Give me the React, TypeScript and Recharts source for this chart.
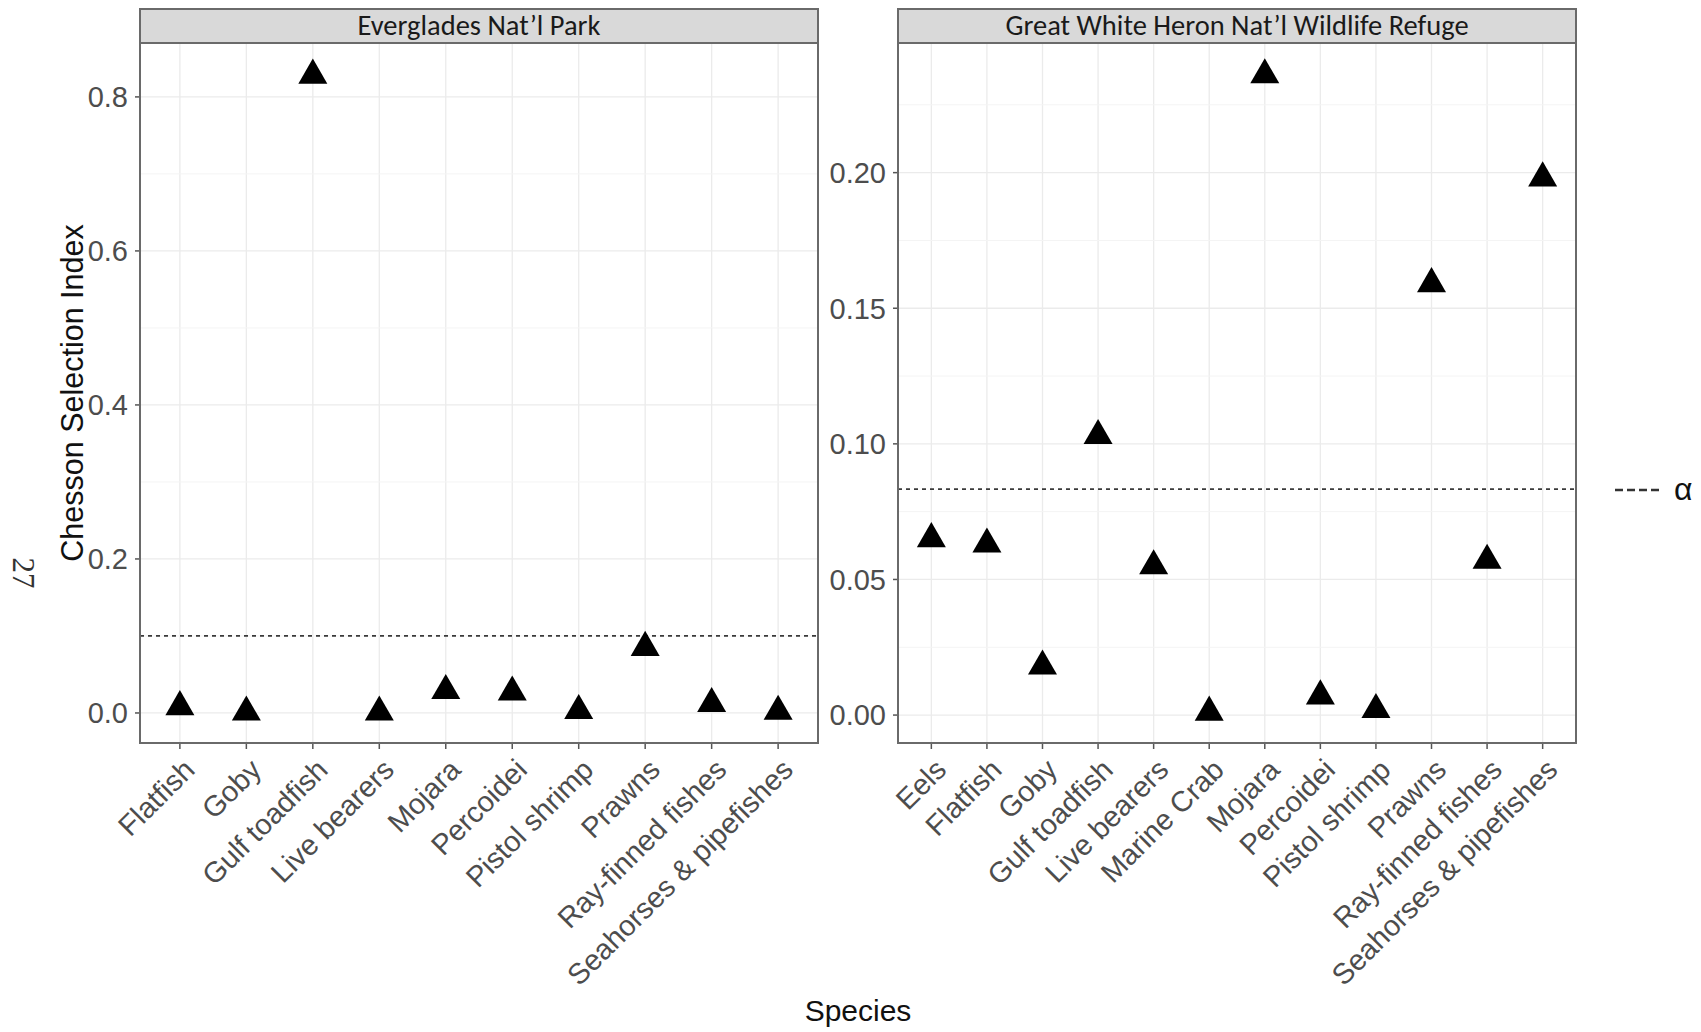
import React from 'react'
import { ScatterChart, Scatter, XAxis, YAxis, CartesianGrid, ReferenceLine } from 'recharts'

// Everglades Nat'l Park
const evergladesSpecies = [
  'Flatfish', 'Goby', 'Gulf toadfish', 'Live bearers', 'Mojara', 'Percoidei',
  'Pistol shrimp', 'Prawns', 'Ray-finned fishes', 'Seahorses & pipefishes',
]
const evergladesIndex = [0.008, 0.001, 0.828, 0.001, 0.029, 0.027, 0.003, 0.085, 0.012, 0.002]
const evergladesTicks = [0, 0.2, 0.4, 0.6, 0.8]
const evergladesMinor = [0.1, 0.3, 0.5, 0.7]
const evergladesAlpha = 0.1

// Great White Heron Nat'l Wildlife Refuge
const heronSpecies = [
  'Eels', 'Flatfish', 'Goby', 'Gulf toadfish', 'Live bearers', 'Marine Crab', 'Mojara',
  'Percoidei', 'Pistol shrimp', 'Prawns', 'Ray-finned fishes', 'Seahorses & pipefishes',
]
const heronIndex = [0.065, 0.063, 0.018, 0.103, 0.055, 0.001, 0.236, 0.007, 0.002, 0.159, 0.057, 0.198]
const heronTicks = [0, 0.05, 0.1, 0.15, 0.2]
const heronMinor = [0.025, 0.075, 0.125, 0.175, 0.225]
const heronAlpha = 1 / 12

const SANS = '"Liberation Sans", Arial, sans-serif'
const PLOT_TOP = 43
const PLOT_BOTTOM = 743
const PLOT_W = 678
const Y_AXIS_W = 140
const X_AXIS_H = 250
const CHART_H = 1032
const BORDER = '#6a6a6a'
const TICK_FONT = 29

function Triangle(props: any) {
  const { cx, cy } = props
  if (cx == null || cy == null) return null
  const s = 29
  const h = (s * Math.sqrt(3)) / 2
  return (
    <polygon
      points={`${cx},${cy - (2 * h) / 3} ${cx - s / 2},${cy + h / 3} ${cx + s / 2},${cy + h / 3}`}
      fill="#000"
    />
  )
}

function SpeciesTick(props: any) {
  const { x, y, payload, names } = props
  const label = names[Math.round(payload.value) - 1]
  return (
    <text
      x={0}
      y={0}
      transform={`translate(${x + 2},${y}) rotate(-45)`}
      textAnchor="end"
      dy="0.71em"
      fontSize={TICK_FONT}
      fontFamily={SANS}
      fill="#4d4d4d"
    >
      {label}
    </text>
  )
}

function Panel({
  plotLeft, title, species, values, ticks, minor, alpha, domain, digits,
}: {
  plotLeft: number
  title: string
  species: string[]
  values: number[]
  ticks: number[]
  minor: number[]
  alpha: number
  domain: [number, number]
  digits: number
}) {
  const data = species.map((name, i) => ({ pos: i + 1, value: values[i], name }))
  const positions = species.map((_, i) => i + 1)
  const chartW = Y_AXIS_W + PLOT_W + 20

  return (
    <>
      <div style={{ position: 'absolute', left: plotLeft - Y_AXIS_W, top: 0 }}>
        <ScatterChart
          width={chartW}
          height={CHART_H}
          margin={{ top: PLOT_TOP, right: 20, left: 0, bottom: CHART_H - PLOT_BOTTOM - X_AXIS_H }}
        >
          <CartesianGrid stroke="#EBEBEB" strokeWidth={1.3} />
          {minor.map((m) => (
            <ReferenceLine key={m} y={m} stroke="#F4F4F4" strokeWidth={1} />
          ))}
          <XAxis
            type="number"
            dataKey="pos"
            domain={[0.4, species.length + 0.6]}
            ticks={positions}
            interval={0}
            height={X_AXIS_H}
            axisLine={false}
            tickSize={6}
            tickMargin={8}
            tickLine={{ stroke: '#555', strokeWidth: 1.5 }}
            tick={(p: any) => <SpeciesTick {...p} names={species} />}
            allowDataOverflow
          />
          <YAxis
            type="number"
            dataKey="value"
            domain={domain}
            ticks={ticks}
            interval={0}
            width={Y_AXIS_W}
            axisLine={false}
            tickSize={5}
            tickMargin={7}
            tickLine={{ stroke: '#555', strokeWidth: 1.5 }}
            tick={{ fontSize: TICK_FONT, fill: '#4d4d4d', fontFamily: SANS }}
            tickFormatter={(v: number) => v.toFixed(digits)}
            allowDataOverflow
          />
          <ReferenceLine y={alpha} stroke="#3a3a3a" strokeDasharray="4 4" strokeWidth={1.8} />
          <Scatter data={data} shape={Triangle} isAnimationActive={false} />
        </ScatterChart>
      </div>
      <div
        style={{
          position: 'absolute', left: plotLeft - 1, top: PLOT_TOP - 1,
          width: PLOT_W + 2, height: PLOT_BOTTOM - PLOT_TOP + 2,
          border: `2px solid ${BORDER}`, boxSizing: 'border-box', pointerEvents: 'none',
        }}
      />
      <div
        style={{
          position: 'absolute', left: plotLeft - 1, top: 8, width: PLOT_W + 2, height: PLOT_TOP - 7,
          border: `2px solid ${BORDER}`, boxSizing: 'border-box', background: '#D9D9D9',
          display: 'flex', alignItems: 'center', justifyContent: 'center',
          fontFamily: 'Carlito, Lato, sans-serif', fontSize: 28.5, color: '#1a1a1a',
          lineHeight: 1, whiteSpace: 'nowrap',
        }}
      >
        {title}
      </div>
    </>
  )
}

export default function App() {
  return (
    <div style={{ position: 'absolute', left: 0, top: 0, width: 1701, height: 1032, background: '#fff', overflow: 'hidden' }}>
      <Panel
        plotLeft={140}
        title="Everglades Nat’l Park"
        species={evergladesSpecies}
        values={evergladesIndex}
        ticks={evergladesTicks}
        minor={evergladesMinor}
        alpha={evergladesAlpha}
        domain={[-0.039, 0.87]}
        digits={1}
      />
      <Panel
        plotLeft={898}
        title="Great White Heron Nat’l Wildlife Refuge"
        species={heronSpecies}
        values={heronIndex}
        ticks={heronTicks}
        minor={heronMinor}
        alpha={heronAlpha}
        domain={[-0.0103, 0.2478]}
        digits={2}
      />
      <svg width={1701} height={1032} style={{ position: 'absolute', left: 0, top: 0, pointerEvents: 'none' }}>
        <text transform="translate(83,393) rotate(-90)" textAnchor="middle" fontSize={30.5} fontFamily={SANS} fill="#111">
          Chesson Selection Index
        </text>
        <text x={858} y={1021} textAnchor="middle" fontSize={30} fontFamily={SANS} fill="#111">
          Species
        </text>
        <text transform="translate(13,573) rotate(90)" textAnchor="middle" fontSize={31} fontFamily='"Liberation Serif", serif' fill="#333">
          27
        </text>
        <line x1={1615} y1={490} x2={1659} y2={490} stroke="#333" strokeWidth={2.5} strokeDasharray="8 4" />
        <text x={1674} y={500} fontSize={32} fontFamily={SANS} fill="#111">
          α
        </text>
      </svg>
    </div>
  )
}
